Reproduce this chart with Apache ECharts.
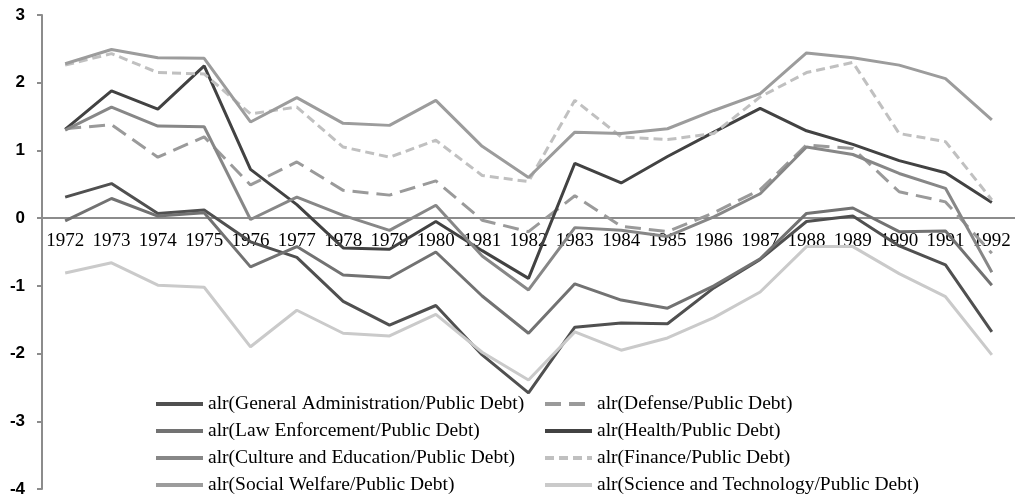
<!DOCTYPE html>
<html>
<head>
<meta charset="utf-8">
<script src="https://cdn.jsdelivr.net/npm/echarts@6/dist/echarts.min.js"></script>
<style>
  html, body { margin: 0; padding: 0; background: #fff; }
  #chart_line { width: 1015px; height: 499px; }
</style>
</head>
<body>
<div id="chart_line"></div>
<script>
  // years on the x axis
  var years = ['1972', '1973', '1974', '1975', '1976', '1977', '1978', '1979', '1980', '1981', '1982',
               '1983', '1984', '1985', '1986', '1987', '1988', '1989', '1990', '1991', '1992'];

  // alr values
  var generalAdmin = [0.31, 0.51, 0.07, 0.12, -0.35, -0.58, -1.23, -1.58, -1.29, -2.02, -2.58,
                      -1.61, -1.55, -1.56, -1.03, -0.61, -0.05, 0.03, -0.41, -0.69, -1.68];
  var defense = [1.32, 1.38, 0.9, 1.2, 0.49, 0.83, 0.41, 0.34, 0.55, -0.03, -0.2,
                 0.33, -0.12, -0.2, 0.08, 0.42, 1.08, 1.03, 0.39, 0.24, -0.52];
  var lawEnforcement = [-0.04, 0.29, 0.03, 0.08, -0.72, -0.42, -0.84, -0.88, -0.5, -1.15, -1.7,
                        -0.97, -1.21, -1.33, -1.0, -0.6, 0.07, 0.15, -0.2, -0.19, -0.99];
  var health = [1.31, 1.88, 1.61, 2.25, 0.72, 0.2, -0.44, -0.46, -0.05, -0.48, -0.89,
                0.81, 0.52, 0.91, 1.27, 1.62, 1.29, 1.09, 0.85, 0.67, 0.23];
  var culture = [1.3, 1.64, 1.36, 1.35, -0.02, 0.31, 0.04, -0.18, 0.19, -0.56, -1.06,
                 -0.14, -0.18, -0.27, 0.02, 0.36, 1.05, 0.94, 0.66, 0.44, -0.8];
  var finance = [2.26, 2.43, 2.15, 2.13, 1.54, 1.64, 1.05, 0.9, 1.15, 0.63, 0.54,
                 1.74, 1.2, 1.16, 1.25, 1.79, 2.15, 2.3, 1.25, 1.13, 0.27];
  var socialWelfare = [2.28, 2.49, 2.37, 2.36, 1.42, 1.78, 1.4, 1.37, 1.74, 1.06, 0.6,
                       1.27, 1.25, 1.32, 1.59, 1.84, 2.44, 2.37, 2.26, 2.06, 1.45];
  var science = [-0.81, -0.66, -0.99, -1.02, -1.9, -1.36, -1.7, -1.74, -1.42, -1.98, -2.39,
                 -1.68, -1.95, -1.77, -1.47, -1.09, -0.42, -0.42, -0.82, -1.16, -2.02];

  var names = ['alr(General Administration/Public Debt)', 'alr(Defense/Public Debt)',
               'alr(Law Enforcement/Public Debt)', 'alr(Health/Public Debt)',
               'alr(Culture and Education/Public Debt)', 'alr(Finance/Public Debt)',
               'alr(Social Welfare/Public Debt)', 'alr(Science and Technology/Public Debt)'];

  var serif = '"Liberation Serif", "Times New Roman", serif';

  function line(name, data, color, dash) {
    return {
      name: name,
      type: 'line',
      data: data,
      showSymbol: false,
      lineStyle: { color: color, width: 3, type: dash || 'solid' },
      itemStyle: { color: color }
    };
  }

  var legendBase = {
    orient: 'vertical',
    top: 394,
    height: 140,
    padding: 0,
    itemWidth: 47,
    itemHeight: 18,
    itemGap: 7,
    itemStyle: { opacity: 0 },
    lineStyle: { width: 4 },
    textStyle: { fontFamily: serif, fontSize: 19.5, color: '#000', lineHeight: 18 }
  };

  var myChart = echarts.init(document.getElementById('chart_line'));
  var option = {
    animation: false,
    backgroundColor: '#fff',
    grid: { left: 42, top: 15, width: 983, height: 474 },
    legend: [
      Object.assign({}, legendBase, { left: 154, data: [names[0], names[2], names[4], names[6]] }),
      Object.assign({}, legendBase, { left: 543, data: [names[1], names[3], names[5], names[7]] })
    ],
    xAxis: {
      type: 'category',
      data: years,
      boundaryGap: true,
      // x axis sits on the zero line: 4 of 7 units up from the bottom
      offset: -271,
      axisLine: { onZero: false, lineStyle: { color: '#8c8c8c', width: 2 } },
      axisTick: { length: 5, lineStyle: { color: '#8c8c8c', width: 2 } },
      axisLabel: { interval: 0, margin: 14, color: '#000', fontFamily: serif, fontSize: 19 },
      splitLine: { show: false }
    },
    yAxis: {
      type: 'value',
      min: -4,
      max: 3,
      interval: 1,
      axisLine: { show: true, lineStyle: { color: '#8c8c8c', width: 2 } },
      axisTick: { show: true, length: 5, lineStyle: { color: '#8c8c8c', width: 2 } },
      axisLabel: { margin: 17, color: '#000', fontFamily: '"Liberation Sans", Arial, sans-serif',
                   fontWeight: 'bold', fontSize: 17 },
      splitLine: { show: false }
    },
    series: [
      line(names[0], generalAdmin, '#505050'),
      line(names[1], defense, '#9a9a9a', [16, 8]),
      line(names[2], lawEnforcement, '#727272'),
      line(names[3], health, '#424242'),
      line(names[4], culture, '#878787'),
      line(names[5], finance, '#c0c0c0', [9, 5]),
      line(names[6], socialWelfare, '#9c9c9c'),
      line(names[7], science, '#cacaca')
    ]
  };
  myChart.setOption(option);
</script>
</body>
</html>
